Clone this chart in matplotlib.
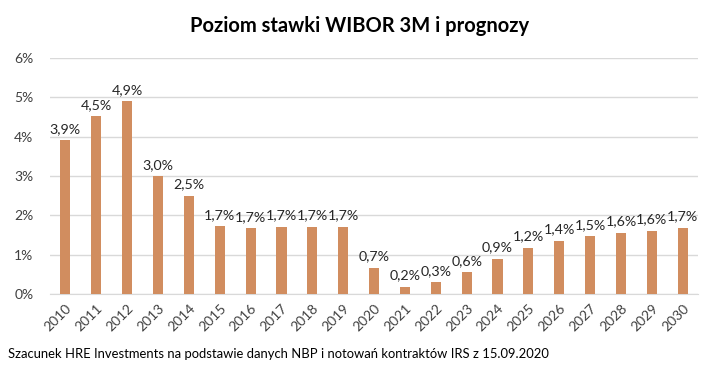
#!/usr/bin/env python
# WIBOR 3M level and forecasts, bar chart with value labels
import matplotlib
matplotlib.use('Agg')
from matplotlib import pyplot as plt
from matplotlib.ticker import FuncFormatter

years = [str(y) for y in range(2010, 2031)]
rates = [3.92, 4.53, 4.91, 3.00, 2.50, 1.73, 1.68, 1.71, 1.71, 1.71, 0.67,
         0.19, 0.31, 0.55, 0.90, 1.18, 1.36, 1.48, 1.56, 1.61, 1.69]
labels = ['3,9%', '4,5%', '4,9%', '3,0%', '2,5%', '1,7%', '1,7%', '1,7%', '1,7%', '1,7%', '0,7%',
          '0,2%', '0,3%', '0,6%', '0,9%', '1,2%', '1,4%', '1,5%', '1,6%', '1,6%', '1,7%']
y_ticks = [0, 1, 2, 3, 4, 5, 6]

plt.rcParams['font.family'] = ['Lato', 'DejaVu Sans']

fig = plt.figure(figsize=(7.19, 3.71), dpi=100)
ax = fig.add_axes([0.0695, 0.2075, 0.9015, 0.6362])

x = range(len(years))
ax.bar(x, rates, width=0.33, color='#D18D5F', zorder=3)
for xi, v, lab in zip(x, rates, labels):
    ax.text(xi, v + 0.13, lab, ha='center', va='bottom', fontsize=10.3, color='#262626')

ax.set_xlim(-0.5, len(years) - 0.5)
ax.set_ylim(0, 6)
ax.set_yticks(y_ticks)
ax.yaxis.set_major_formatter(FuncFormatter(lambda v, p: '%d%%' % v))
ax.set_xticks(list(x))
ax.set_xticklabels(years, rotation=45, ha='right', rotation_mode='anchor')
ax.tick_params(axis='both', length=0, labelsize=10, labelcolor='#404040')
ax.tick_params(axis='y', pad=12)
ax.tick_params(axis='x', pad=6)
ax.grid(axis='y', color='#D9D9D9', linewidth=1, zorder=0)
for s in ['top', 'right', 'left']:
    ax.spines[s].set_visible(False)
ax.spines['bottom'].set_color('#D9D9D9')

fig.text(0.5, 0.93, 'Poziom stawki WIBOR 3M i prognozy', ha='center', va='center',
         fontsize=14.5, fontweight='bold', color='black')
fig.text(0.011, 0.045, 'Szacunek HRE Investments na podstawie danych NBP i notowań kontraktów IRS z 15.09.2020',
         ha='left', va='center', fontsize=9.4, color='black')

fig.savefig('out.png', dpi=100)
